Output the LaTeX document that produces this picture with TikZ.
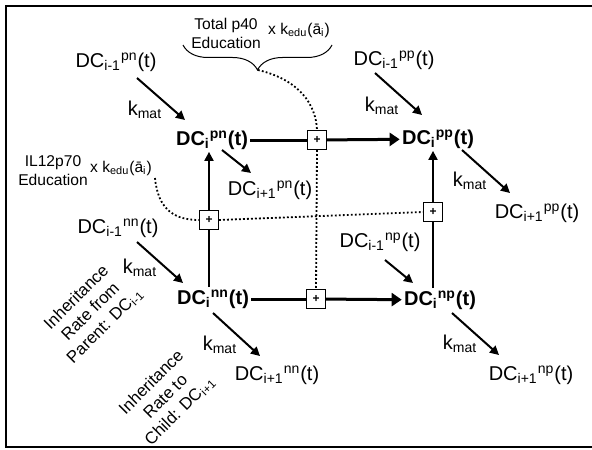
\documentclass[tikz,border=0pt]{standalone}
\usepackage{fontspec}
\setmainfont{Liberation Sans}
\usepackage{tikz}
\usetikzlibrary{arrows.meta, positioning, calc, decorations.pathreplacing}

\begin{document}
\begin{tikzpicture}[
    x=0.5pt, y=-0.5pt,
    dcnode/.style={inner sep=1pt, font=\fontsize{10}{12}\selectfont},
    dcmain/.style={inner sep=1pt, font=\fontsize{10}{12}\selectfont\bfseries},
    kmat/.style={inner sep=0pt, font=\fontsize{10}{12}\selectfont},
    note/.style={align=center, inner sep=0pt, font=\fontsize{7.8}{9.5}\selectfont},
    tilted/.style={align=center, inner sep=0pt, rotate=45, font=\fontsize{8.4}{10}\selectfont},
    plusbox/.style={draw, line width=0.5pt, fill=white, minimum size=9.5pt, inner sep=0pt, font=\fontsize{6}{6}\selectfont\bfseries},
    flow/.style={line width=1.5pt, -{Triangle[length=5pt, width=6.5pt]}},
    rise/.style={line width=1pt, -{Triangle[length=4.5pt, width=4.5pt]}},
    diag/.style={line width=1pt, -{Triangle[length=4.5pt, width=4.5pt]}},
    edu/.style={line width=0.9pt, dash pattern=on 0.9pt off 1.1pt}
]
    \useasboundingbox (0,0) rectangle (592,449);
    \draw[line width=0.8pt] (6,6) rectangle (598,447);

    % Estados DC
    \node[dcmain] (pn) at (212,140) {DC\textsubscript{i}\textsuperscript{pn}(t)};
    \node[dcmain] (pp) at (438,139) {DC\textsubscript{i}\textsuperscript{pp}(t)};
    \node[dcmain] (nn) at (213,299) {DC\textsubscript{i}\textsuperscript{nn}(t)};
    \node[dcmain] (np) at (440,300) {DC\textsubscript{i}\textsuperscript{np}(t)};

    \node[dcnode] (pnm) at (116,62) {DC\textsubscript{i-1}\textsuperscript{pn}(t)};
    \node[dcnode] (pnp) at (270,190) {DC\textsubscript{i+1}\textsuperscript{pn}(t)};
    \node[dcnode] (ppm) at (394,60) {DC\textsubscript{i-1}\textsuperscript{pp}(t)};
    \node[dcnode] (ppp) at (537,213) {DC\textsubscript{i+1}\textsuperscript{pp}(t)};
    \node[dcnode] (nnm) at (118,228) {DC\textsubscript{i-1}\textsuperscript{nn}(t)};
    \node[dcnode] (nnp) at (277,375) {DC\textsubscript{i+1}\textsuperscript{nn}(t)};
    \node[dcnode] (npm) at (380,242) {DC\textsubscript{i-1}\textsuperscript{np}(t)};
    \node[dcnode] (npp) at (531,375) {DC\textsubscript{i+1}\textsuperscript{np}(t)};

    % Taxas
    \node[kmat] (k1) at (145,110) {k\textsubscript{mat}};
    \node[kmat] (k2) at (382,106) {k\textsubscript{mat}};
    \node[kmat] (k3) at (470,181) {k\textsubscript{mat}};
    \node[kmat] (k4) at (140,268) {k\textsubscript{mat}};
    \node[kmat] (k5) at (220,345) {k\textsubscript{mat}};
    \node[kmat] (k6) at (460,344) {k\textsubscript{mat}};

    \node[tilted] (par) at (91,312) {Inheritance\\Rate from\\Parent: DC\textsubscript{i-1}};
    \node[tilted] (chi) at (166,397) {Inheritance\\Rate to\\Child: DC\textsubscript{i+1}};

    % Educação
    \node[note] (tot) at (226,33) {Total p40\\Education};
    \node[note] (totk) at (299,30) {x k\textsubscript{edu}(ā\textsubscript{i})};
    \node[note] (il) at (53,171) {IL12p70\\Education};
    \node[note] (ilk) at (121,168) {x k\textsubscript{edu}(ā\textsubscript{i})};

    \coordinate (bl) at (183,45);
    \coordinate (br) at (332,45);
    \coordinate (tip) at (258,70);
    \coordinate (ilend) at (155,178);
    \draw[line width=0.5pt, decorate, decoration={brace, mirror, amplitude=12.5pt}] (bl) -- (br);

    \node[plusbox] (bT) at (317,140) {+};
    \node[plusbox] (bB) at (316,299) {+};
    \node[plusbox] (bL) at (209,220) {+};
    \node[plusbox] (bR) at (433,212) {+};

    \draw[edu] (tip) .. controls (300,80) and (316,105) .. (bT.north);
    \draw[edu] (bT.south) -- (bB.north);
    \draw[edu] (ilend) .. controls (158,210) and (175,220) .. (bL.west);
    \draw[edu] (bL.east) -- (bR.west);

    % Setas
    \draw[line width=1.5pt] (pn) -- (bT);
    \draw[flow] (bT) -- (pp);
    \draw[line width=1.5pt] (nn) -- (bB);
    \draw[flow] (bB) -- (np);
    \draw[line width=1pt] (nn.north -| bL) -- (bL);
    \draw[rise] (bL) -- (pn.south -| bL);
    \draw[line width=1pt] (np.north -| bR) -- (bR);
    \draw[rise] (bR) -- (pp.south -| bR);

    \draw[diag] ($(pnm)+(21,16)$) -- ($(pn)+(-27,-20)$);
    \draw[diag] ($(pn)+(10,10)$) -- ($(pnp)+(-19,-17)$);
    \draw[diag] ($(ppm)+(-19,13)$) -- ($(pp)+(-16,-24)$);
    \draw[diag] ($(pp)+(24,11)$) -- ($(ppp)+(-27,-20)$);
    \draw[diag] ($(nnm)+(19,14)$) -- ($(nn)+(-30,-16)$);
    \draw[diag] ($(nn)+(0,14)$) -- ($(nnp)+(-17,-19)$);
    \draw[diag] ($(npm)+(5,18)$) -- ($(np)+(-27,-17)$);
    \draw[diag] ($(np)+(12,13)$) -- ($(npp)+(-32,-20)$);
\end{tikzpicture}
\end{document}
